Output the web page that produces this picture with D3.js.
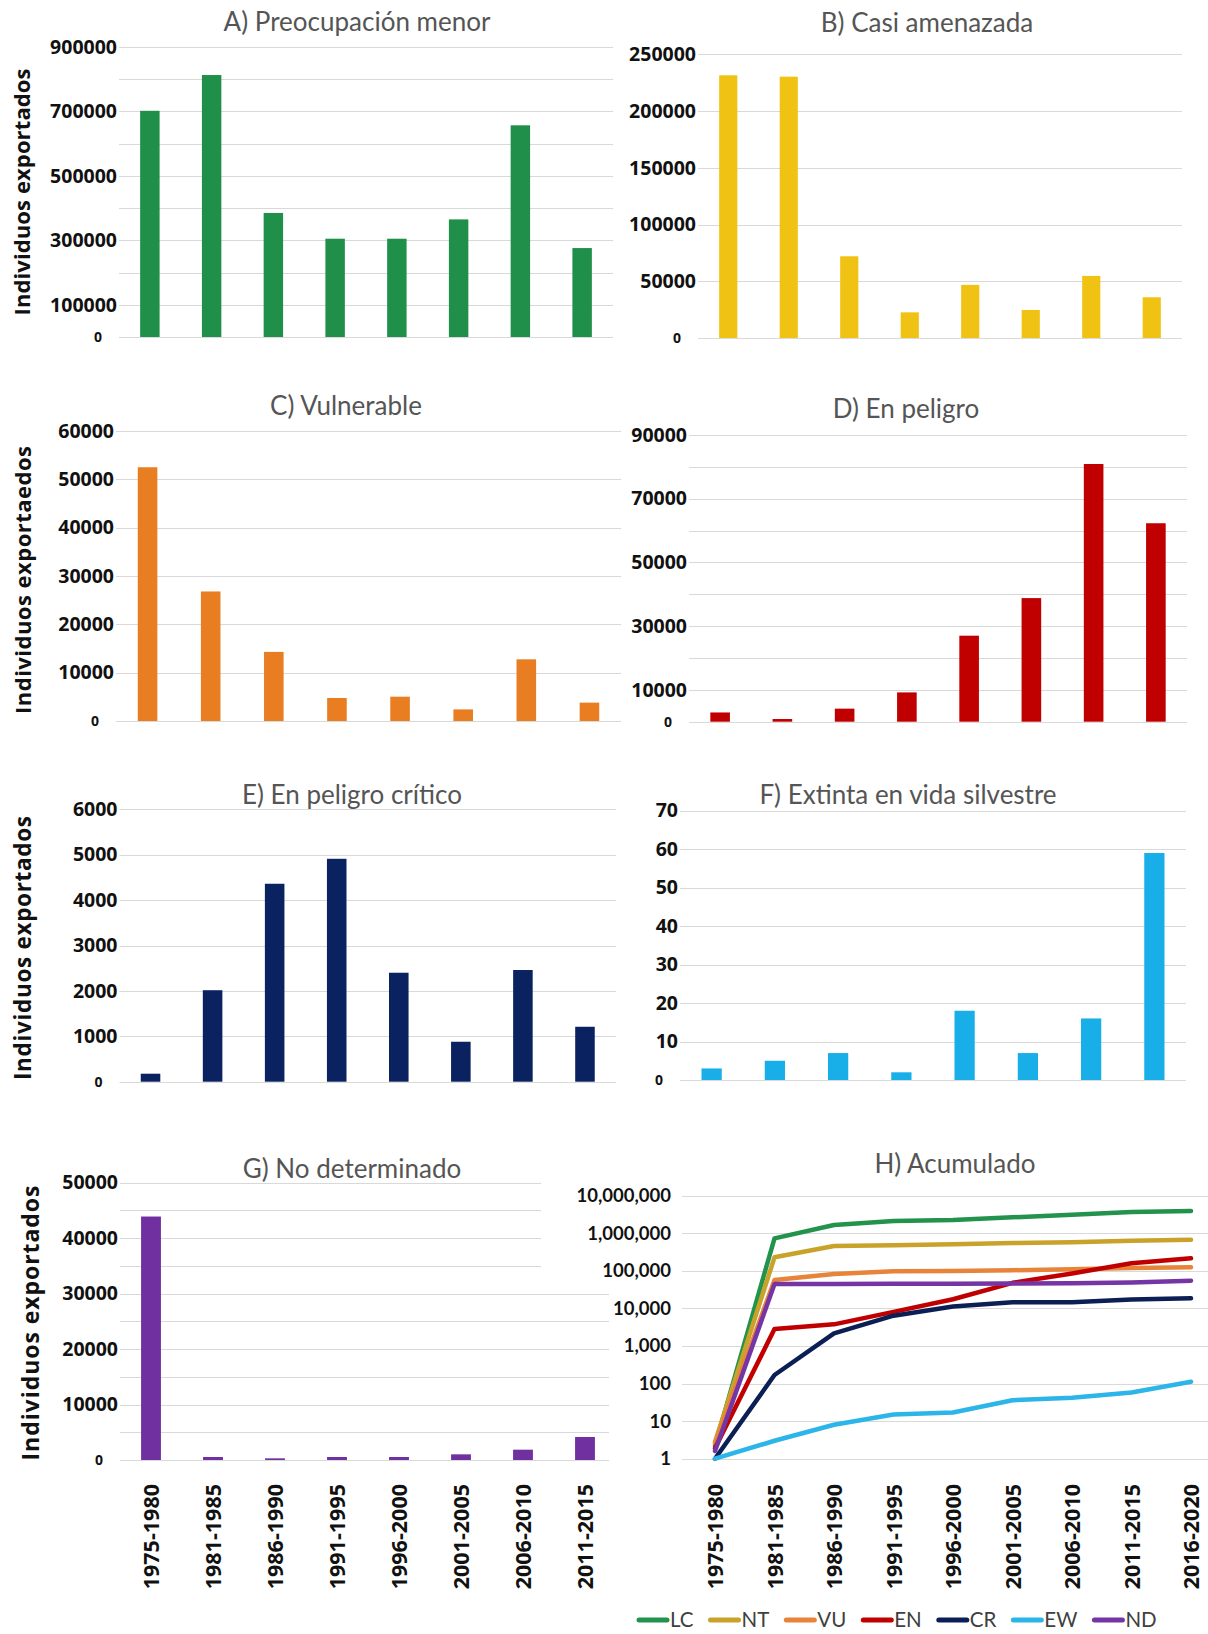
<!DOCTYPE html>
<html><head><meta charset="utf-8">
<script src="https://cdn.jsdelivr.net/npm/d3@7"></script>
<style>body{margin:0;background:#fff}</style>
</head><body>
<svg id="chart" width="1208" height="1634" xmlns="http://www.w3.org/2000/svg"></svg>
<script>
// ---------- DATA ----------
const periods = ["1975-1980","1981-1985","1986-1990","1991-1995","1996-2000","2001-2005","2006-2010","2011-2015"];
const periodsAcc = ["1975-1980","1981-1985","1986-1990","1991-1995","1996-2000","2001-2005","2006-2010","2011-2015","2016-2020"];

const lcValues = [702000, 813000, 385000, 305000, 305000, 365000, 657000, 276000];
const ntValues = [231500, 230300, 72000, 22600, 46800, 24700, 54700, 35900];
const vuValues = [52500, 26800, 14300, 4760, 5030, 2400, 12760, 3800];
const enValues = [2900, 840, 4100, 9200, 27000, 38800, 80900, 62300];
const crValues = [176, 2015, 4360, 4910, 2400, 880, 2460, 1210];
const ewValues = [3, 5, 7, 2, 18, 7, 16, 59];
const ndValues = [43900, 540, 300, 540, 540, 1020, 1860, 4150];

const lcAcc = [2.2, 733000, 1660000, 2120000, 2260000, 2650000, 3130000, 3680000, 3920000];
const ntAcc = [2.8, 229000, 458000, 477000, 507000, 551000, 574000, 636000, 675000];
const vuAcc = [2.5, 57000, 82000, 97000, 99000, 104000, 110000, 119000, 124000];
const enAcc = [1.9, 2820, 3770, 8100, 17500, 48000, 85000, 160000, 216000];
const crAcc = [1, 169, 2170, 6400, 11200, 14500, 14700, 17300, 18600];
const ewAcc = [1, 3, 8, 15, 17, 36, 42, 58, 112];
const ndAcc = [1.6, 44600, 44800, 45000, 45500, 46000, 47000, 49000, 54700];

const gridA = d3.range(0, 900001, 100000), labelsA = [900000, 700000, 500000, 300000, 100000, 0];
const gridB = d3.range(0, 250001, 50000),  labelsB = gridB;
const gridC = d3.range(0, 60001, 10000),   labelsC = gridC;
const gridD = d3.range(0, 90001, 10000),   labelsD = [90000, 70000, 50000, 30000, 10000, 0];
const gridE = d3.range(0, 6001, 1000),     labelsE = gridE;
const gridF = d3.range(0, 71, 10),         labelsF = gridF;
const gridG = d3.range(0, 50001, 5000),    labelsG = d3.range(0, 50001, 10000);
const ticksH = [1, 10, 100, 1000, 10000, 100000, 1000000, 10000000];

const legendKeys = ["LC","NT","VU","EN","CR","EW","ND"];
const titles = ["A) Preocupación menor","B) Casi amenazada","C) Vulnerable","D) En peligro",
                "E) En peligro crítico","F) Extinta en vida silvestre","G) No determinado","H) Acumulado"];
const yTitle = "Individuos exportados";
const yTitleC = "Individuos exportaedos";

// ---------- STYLE / LAYOUT ----------
const barColors = {LC:"#1f8f4a", NT:"#f0c214", VU:"#e87d22", EN:"#c00000", CR:"#0b2260", EW:"#18aee8", ND:"#7030a0"};
const lineColors = {LC:"#22924c", NT:"#c9a22a", VU:"#e8843a", EN:"#c00000", CR:"#0b1f55", EW:"#2cb5e8", ND:"#7535a5"};
const gridColor = "#d9d9d9";
const titleFont = "Lato, 'Noto Sans', sans-serif";
const boldFont = "'Open Sans', 'Noto Sans', sans-serif";

const svg = d3.select("#chart");
svg.append("rect").attr("width",1208).attr("height",1634).attr("fill","#fff");

const panels = [
  {values:lcValues, color:barColors.LC, max:900000, grid:gridA, labels:labelsA, x0:119, x1:613, yt:47, yb:337, pad:0.685, title:titles[0], tx:357, ty:31, yt2:{x:22, y:192, len:247, fs:22}},
  {values:ntValues, color:barColors.NT, max:250000, grid:gridB, labels:labelsB, x0:698, x1:1182, yt:54.3, yb:338, pad:0.70, title:titles[1], tx:927, ty:32},
  {values:vuValues, color:barColors.VU, max:60000, grid:gridC, labels:labelsC, x0:116, x1:621, yt:431, yb:721, pad:0.69, title:titles[2], tx:346, ty:415, yt2:{x:23, y:580, len:268, fs:22, text:yTitleC}},
  {values:enValues, color:barColors.EN, max:90000, grid:gridD, labels:labelsD, x0:689, x1:1187, yt:435, yb:721.7, pad:0.685, title:titles[3], tx:906, ty:418},
  {values:crValues, color:barColors.CR, max:6000, grid:gridE, labels:labelsE, x0:119.5, x1:616, yt:809.3, yb:1081.7, pad:0.685, title:titles[4], tx:352, ty:804, yt2:{x:23, y:948, len:264, fs:22.5}},
  {values:ewValues, color:barColors.EW, max:70, grid:gridF, labels:labelsF, x0:680, x1:1186, yt:810.7, yb:1080, pad:0.68, title:titles[5], tx:908, ty:804},
  {values:ndValues, color:barColors.ND, max:50000, grid:gridG, labels:labelsG, x0:120, x1:616, yt:1182.7, yb:1460, pad:0.68, title:titles[6], tx:352, ty:1178, yt2:{x:31, y:1323, len:275, fs:23}, xlabels:true}
];

function barPanel(p) {
  const g = svg.append("g");
  const x = d3.scaleBand().domain(periods).range([p.x0, p.x1]).paddingInner(p.pad).paddingOuter(p.pad/2);
  const y = d3.scaleLinear().domain([0, p.max]).range([p.yb, p.yt]);
  g.append("g").selectAll("line").data(p.grid).join("line")
    .attr("x1", p.x0).attr("x2", p.x1)
    .attr("y1", d => Math.round(y(d)) + 0.5).attr("y2", d => Math.round(y(d)) + 0.5)
    .attr("stroke", gridColor).attr("stroke-width", 1.2);
  g.append("text").attr("x", p.tx).attr("y", p.ty).attr("text-anchor","middle")
    .attr("font-family", titleFont).attr("font-size", 26).attr("fill", "#555").text(p.title);
  g.append("g").selectAll("rect").data(p.values).join("rect")
    .attr("x", (d,i) => x(periods[i])).attr("width", x.bandwidth())
    .attr("y", d => y(d)).attr("height", d => y(0) - y(d)).attr("fill", p.color);
  const ax = g.append("g").attr("transform", `translate(${p.x0},0)`)
    .call(d3.axisLeft(y).tickValues(p.labels).tickSize(0).tickPadding(2).tickFormat(d3.format("d")));
  ax.select(".domain").remove();
  ax.selectAll("text").attr("font-family", boldFont).attr("font-weight", 700)
    .attr("font-size", 19.5).attr("fill", "#111");
  ax.selectAll(".tick").filter(d => d === 0).select("text")
    .attr("font-size", 14).attr("x", -17);
  if (p.yt2) {
    g.append("text").attr("transform", `translate(${p.yt2.x},${p.yt2.y}) rotate(-90)`)
      .attr("text-anchor","middle").attr("dy","0.35em")
      .attr("font-family", boldFont).attr("font-weight", 700).attr("font-size", p.yt2.fs)
      .attr("textLength", p.yt2.len).attr("lengthAdjust","spacing")
      .attr("fill","#111").text(p.yt2.text || yTitle);
  }
  if (p.xlabels) {
    const xa = g.append("g").attr("transform", `translate(0,${p.yb})`)
      .call(d3.axisBottom(x).tickSize(0).tickPadding(0));
    xa.select(".domain").remove();
    xa.selectAll("text").attr("transform","rotate(-90)").attr("text-anchor","end")
      .attr("x", -24).attr("y", 0).attr("dy","0.36em")
      .attr("font-family", boldFont).attr("font-weight", 700).attr("font-size", 21.5).attr("fill","#111");
  }
}
panels.forEach(barPanel);

// ---------- H) cumulative, log scale ----------
const hg = svg.append("g");
hg.append("rect").attr("x", 541).attr("y", 1140).attr("width", 90).attr("height", 140).attr("fill","#fff");
hg.append("rect").attr("x", 609).attr("y", 1280).attr("width", 20).attr("height", 190).attr("fill","#fff");
const xh = d3.scalePoint().domain(periodsAcc).range([715, 1191]);
const yh = d3.scaleLog().domain([1, 1e7]).range([1458.7, 1195.7]);
hg.append("g").selectAll("line").data(ticksH).join("line")
  .attr("x1", 682).attr("x2", 1208)
  .attr("y1", d => Math.round(yh(d)) + 0.5).attr("y2", d => Math.round(yh(d)) + 0.5)
  .attr("stroke", gridColor).attr("stroke-width", 1.2);
hg.append("text").attr("x", 955).attr("y", 1173).attr("text-anchor","middle")
  .attr("font-family", titleFont).attr("font-size", 26).attr("fill", "#555").text(titles[7]);
const hax = hg.append("g").attr("transform","translate(682,0)")
  .call(d3.axisLeft(yh).tickValues(ticksH).tickSize(0).tickPadding(11).tickFormat(d3.format(",")));
hax.select(".domain").remove();
hax.selectAll("text").attr("font-family", titleFont).attr("font-weight", 700).attr("font-size", 18.5).attr("fill","#111");
const hxa = hg.append("g").attr("transform","translate(0,1460)").call(d3.axisBottom(xh).tickSize(0).tickPadding(0));
hxa.select(".domain").remove();
hxa.selectAll("text").attr("transform","rotate(-90)").attr("text-anchor","end")
  .attr("x", -24).attr("y", 0).attr("dy","0.36em")
  .attr("font-family", boldFont).attr("font-weight", 700).attr("font-size", 21.5).attr("fill","#111");

const series = [
  {key:"LC", values:lcAcc}, {key:"NT", values:ntAcc}, {key:"VU", values:vuAcc}, {key:"EN", values:enAcc},
  {key:"CR", values:crAcc}, {key:"EW", values:ewAcc}, {key:"ND", values:ndAcc}
];
const line = d3.line().x((d,i) => xh(periodsAcc[i])).y(d => yh(d));
hg.append("g").selectAll("path").data(series).join("path")
  .attr("d", s => line(s.values)).attr("fill","none")
  .attr("stroke", s => lineColors[s.key]).attr("stroke-width", 4.5)
  .attr("stroke-linejoin","round").attr("stroke-linecap","round");

// legend
const lg = hg.append("g");
let lx = 637;
const ly = 1620;
legendKeys.forEach(k => {
  lg.append("line").attr("x1", lx + 2).attr("x2", lx + 30).attr("y1", ly).attr("y2", ly)
    .attr("stroke", lineColors[k]).attr("stroke-width", 5).attr("stroke-linecap","round");
  const t = lg.append("text").attr("x", lx + 33).attr("y", ly).attr("dy","0.35em")
    .attr("font-family", titleFont).attr("font-size", 20.5).attr("fill","#404040").text(k);
  lx = lx + 33 + t.node().getComputedTextLength() + 15;
});
</script>
</body></html>
